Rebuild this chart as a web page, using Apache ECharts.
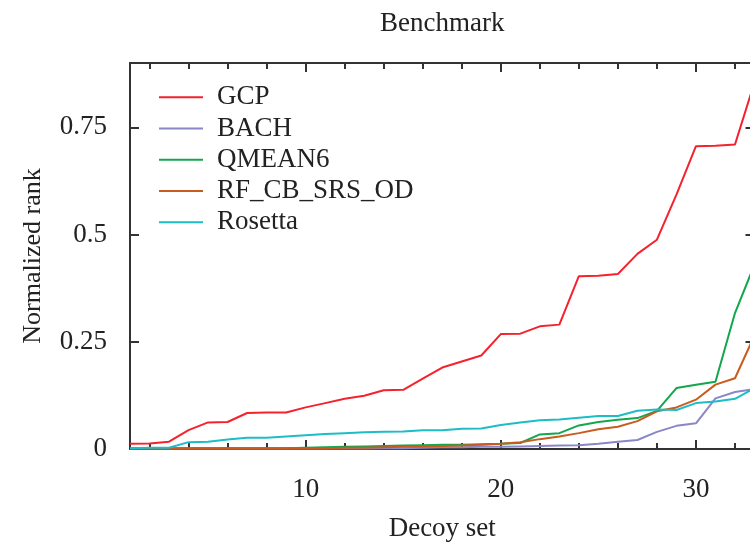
<!DOCTYPE html>
<html>
<head>
<meta charset="utf-8">
<style>
  html, body { margin: 0; padding: 0; background: #fff; }
  #chart { width: 750px; height: 546px; }
</style>
<script src="https://cdn.jsdelivr.net/npm/echarts@6/dist/echarts.min.js"></script>
</head>
<body>
<div id="chart"></div>
<script>
// Decoy sets on the x axis
const decoySets = [1, 2, 3, 4, 5, 6, 7, 8, 9, 10, 11, 12, 13, 14, 15, 16, 17,
  18, 19, 20, 21, 22, 23, 24, 25, 26, 27, 28, 29, 30, 31, 32, 33];

// Normalized rank per method, sorted ascending
const gcp = [0.012, 0.013, 0.017, 0.044, 0.062, 0.063, 0.084, 0.085, 0.085, 0.097,
  0.107, 0.117, 0.124, 0.137, 0.138, 0.164, 0.190, 0.204, 0.218, 0.268,
  0.269, 0.286, 0.290, 0.403, 0.404, 0.408, 0.455, 0.488, 0.593, 0.706,
  0.707, 0.710, 0.855];
const bach = [0.001, 0.001, 0.001, 0.001, 0.001, 0.001, 0.001, 0.001, 0.001, 0.001,
  0.001, 0.001, 0.001, 0.002, 0.002, 0.003, 0.004, 0.004, 0.005, 0.005,
  0.006, 0.007, 0.008, 0.009, 0.012, 0.017, 0.021, 0.040, 0.054, 0.060,
  0.118, 0.133, 0.140];
const qmean6 = [0.001, 0.001, 0.001, 0.002, 0.002, 0.002, 0.002, 0.002, 0.002, 0.003,
  0.004, 0.005, 0.006, 0.007, 0.008, 0.009, 0.010, 0.010, 0.011, 0.012,
  0.014, 0.034, 0.037, 0.055, 0.063, 0.068, 0.072, 0.089, 0.142, 0.150,
  0.157, 0.317, 0.430];
const rfCbSrsOd = [0.002, 0.002, 0.002, 0.002, 0.002, 0.002, 0.002, 0.002, 0.002, 0.002,
  0.002, 0.003, 0.003, 0.004, 0.005, 0.006, 0.007, 0.008, 0.010, 0.012,
  0.016, 0.023, 0.029, 0.037, 0.046, 0.052, 0.065, 0.088, 0.097, 0.115,
  0.150, 0.165, 0.265];
const rosetta = [0.002, 0.003, 0.003, 0.016, 0.017, 0.022, 0.026, 0.026, 0.029, 0.032,
  0.035, 0.037, 0.039, 0.040, 0.041, 0.044, 0.044, 0.047, 0.048, 0.056,
  0.062, 0.067, 0.069, 0.073, 0.077, 0.077, 0.089, 0.092, 0.091, 0.107,
  0.111, 0.117, 0.142];

const seriesNames = ['GCP', 'BACH', 'QMEAN6', 'RF_CB_SRS_OD', 'Rosetta'];
const seriesValues = [gcp, bach, qmean6, rfCbSrsOd, rosetta];
const seriesColors = ['#f5222d', '#8a86c8', '#12a74c', '#c95b1f', '#1cbdc7'];

// Axis ticks and labels
const xMinorTicks = [2, 4, 6, 8, 10, 12, 14, 16, 18, 20, 22, 24, 26, 28, 30, 32];
const xMajorTicks = [10, 20, 30];
const yTicks = [0, 0.25, 0.5, 0.75];

const FONT = 'Liberation Serif';
const FS = 27;
const AXIS_COLOR = '#333';

const chart = echarts.init(document.getElementById('chart'), null, { renderer: 'canvas' });

function xAxisDef(position, ticks, len, withLine, labels, name, nameGap) {
  return {
    type: 'value', position: position, min: 1, max: 33,
    name: name || '', nameLocation: 'middle', nameGap: nameGap || 0,
    nameTextStyle: { fontFamily: FONT, fontSize: FS, color: '#222' },
    axisLine: { show: withLine, lineStyle: { color: AXIS_COLOR, width: 2 } },
    axisTick: { show: true, inside: true, length: len, customValues: ticks,
      lineStyle: { color: AXIS_COLOR, width: 2 } },
    axisLabel: labels
      ? { show: true, customValues: labels, margin: 27, fontFamily: FONT, fontSize: FS, color: '#222' }
      : { show: false },
    splitLine: { show: false }
  };
}

function yAxisDef(position, withLabels, name) {
  return {
    type: 'value', position: position, min: 0, max: 0.9,
    name: name || '', nameLocation: 'middle', nameGap: 84,
    nameTextStyle: { fontFamily: FONT, fontSize: 26, color: '#222' },
    axisLine: { show: true, lineStyle: { color: AXIS_COLOR, width: 2 } },
    axisTick: { show: true, inside: true, length: 9, customValues: yTicks,
      lineStyle: { color: AXIS_COLOR, width: 2 } },
    axisLabel: withLabels
      ? { show: true, customValues: yTicks, margin: 23, fontFamily: FONT, fontSize: FS, color: '#222' }
      : { show: false },
    splitLine: { show: false }
  };
}

const option = {
  animation: false,
  backgroundColor: '#fff',
  // the plot frame runs a few pixels past the right edge of the canvas
  grid: { left: 130, top: 63, width: 624.5, height: 386, containLabel: false, outerBoundsMode: 'none' },
  xAxis: [
    xAxisDef('bottom', xMinorTicks, 6, true, xMajorTicks, 'Decoy set', 66),
    xAxisDef('bottom', xMajorTicks, 9, false, null),
    xAxisDef('top', xMinorTicks, 6, true, null, 'Benchmark', 26),
    xAxisDef('top', xMajorTicks, 9, false, null)
  ],
  yAxis: [
    yAxisDef('left', true, 'Normalized rank'),
    yAxisDef('right', false)
  ],
  legend: {
    orient: 'vertical', left: 159, top: 81.5, padding: 0, itemGap: 0,
    icon: 'rect', itemWidth: 44, itemHeight: 2,
    textStyle: { fontFamily: FONT, fontSize: FS, color: '#222', lineHeight: 31.3, padding: [0, 0, 0, 9] },
    data: seriesNames
  },
  series: seriesNames.map((name, i) => ({
    name: name,
    type: 'line',
    xAxisIndex: 0, yAxisIndex: 0,
    showSymbol: false, symbol: 'none',
    clip: true,
    color: seriesColors[i],
    lineStyle: { width: 2, color: seriesColors[i] },
    data: decoySets.map((d, k) => [d, seriesValues[i][k]])
  }))
};

chart.setOption(option);
</script>
</body>
</html>
